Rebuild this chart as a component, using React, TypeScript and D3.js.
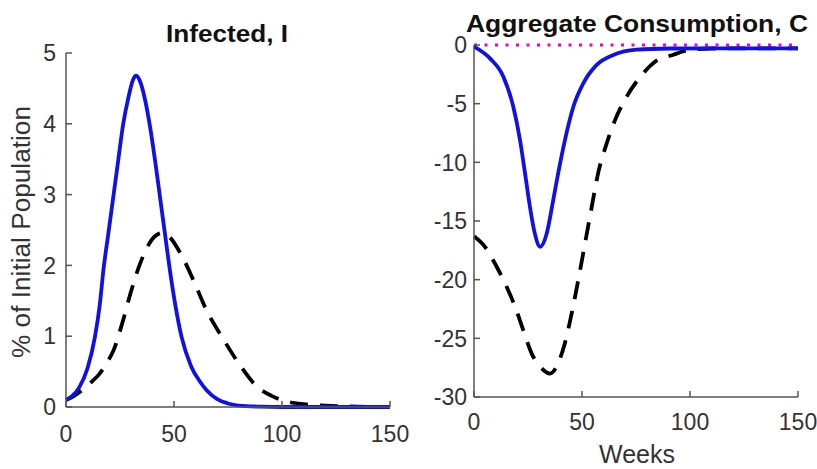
import React from "react";
import * as d3 from "d3";

const weeksTicks = [0, 50, 100, 150];
const infTicks = [0, 1, 2, 3, 4, 5];
const consTicks = [0, -5, -10, -15, -20, -25, -30];

// Infected, I (% of initial population)
const infBlueT = [0, 3, 6, 10, 13.4, 15.7, 17.3, 19.6, 21.9, 24.2, 26.5, 28.8, 31, 32.4, 34, 36.6, 38.9, 41.2, 43.5, 45.8, 48.1, 50.5, 53.5, 58, 62, 65, 70, 75, 80, 90, 100, 150];
const infBlueV = [0.1, 0.16, 0.27, 0.55, 0.99, 1.46, 1.93, 2.45, 2.97, 3.49, 4.0, 4.36, 4.62, 4.68, 4.62, 4.34, 3.96, 3.49, 2.97, 2.45, 1.93, 1.46, 0.99, 0.57, 0.36, 0.24, 0.11, 0.05, 0.02, 0.005, 0, 0];
const infBlackT = [0, 3.4, 8, 12, 15, 19, 22, 26, 30, 34, 38, 42, 45, 48, 53, 59, 65, 73, 81, 88, 95, 102, 110, 120, 135, 150];
const infBlackV = [0.1, 0.15, 0.25, 0.36, 0.45, 0.63, 0.8, 1.18, 1.62, 2.0, 2.28, 2.43, 2.46, 2.4, 2.17, 1.79, 1.37, 0.95, 0.57, 0.3, 0.16, 0.08, 0.04, 0.02, 0.005, 0];

// Aggregate Consumption, C
const conBlueT = [0, 7.4, 13.6, 18.2, 21.3, 23.6, 25.9, 28.2, 30.6, 33.6, 36.7, 39, 42.1, 46, 50.6, 56.8, 64.5, 75.3, 91, 110, 150];
const conBlueV = [-0.14, -1.14, -2.7, -5.26, -8.1, -10.9, -13.8, -16.1, -17.2, -16.1, -13.2, -10.9, -8.1, -5.26, -3.27, -1.7, -0.85, -0.4, -0.3, -0.28, -0.28];
const conBlackT = [0, 5.1, 10.5, 15.1, 19, 22.8, 26.7, 30.6, 35.2, 39, 42.1, 45.2, 48.3, 51.4, 54.5, 57.5, 61.4, 65.3, 70.7, 78.4, 83.8, 92, 99, 110, 150];
const conBlackV = [-16.3, -17.2, -18.9, -20.6, -22.3, -24.3, -26.3, -27.4, -28.0, -27.1, -25.4, -22.9, -20.0, -16.9, -13.8, -10.9, -8.4, -6.4, -4.4, -2.4, -1.42, -0.85, -0.45, -0.3, -0.28];
const conZeroT = [0, 150];
const conZeroV = [0, 0];

const AXIS = "#555";
const TXT = "#333";
const FONT = "'Liberation Sans', Arial, Helvetica, sans-serif";
const BLUE = "#1010e8";

type Series = { t: number[]; v: number[]; color: string; dash?: string; width: number };

function Panel(props: {
  x0: number; x1: number; yTop: number; yBot: number; yDomain: [number, number];
  yTicks: number[]; series: Series[]; title: string; titleX: number; titleY: number; titleLen: number;
  xTickY: number; yTickRight: number;
}) {
  const { x0, x1, yTop, yBot, yDomain, yTicks, series } = props;
  const x = d3.scaleLinear().domain([0, 150]).range([x0, x1]);
  const y = d3.scaleLinear().domain(yDomain).range([yBot, yTop]);
  const line = d3.line<[number, number]>().x((d) => x(d[0])).y((d) => y(d[1])).curve(d3.curveMonotoneX);
  return (
    <g>
      {series.map((s, i) => (
        <path key={i} d={line(s.t.map((t, j) => [t, s.v[j]] as [number, number])) || ""}
          fill="none" stroke={s.color} strokeWidth={s.width} strokeDasharray={s.dash} />
      ))}
      <line x1={x0} x2={x1} y1={yBot} y2={yBot} stroke={AXIS} strokeWidth={1.5} />
      <line x1={x0} x2={x0} y1={yTop} y2={yBot} stroke={AXIS} strokeWidth={1.5} />
      {weeksTicks.map((t) => (
        <g key={"x" + t}>
          <line x1={x(t)} x2={x(t)} y1={yBot} y2={yBot - 6} stroke={AXIS} strokeWidth={1.5} />
          <text x={x(t)} y={props.xTickY} textAnchor="middle" fontSize={23} fill={TXT} fontFamily={FONT}>{t}</text>
        </g>
      ))}
      {yTicks.map((v) => (
        <g key={"y" + v}>
          <line x1={x0} x2={x0 + 6} y1={y(v)} y2={y(v)} stroke={AXIS} strokeWidth={1.5} />
          <text x={props.yTickRight} y={y(v)} dy="0.36em" textAnchor="end" fontSize={23} fill={TXT} fontFamily={FONT}>{v}</text>
        </g>
      ))}
      <text x={props.titleX} y={props.titleY} textAnchor="middle" fontSize={24} fontWeight="bold" fill="#111"
        fontFamily={FONT} textLength={props.titleLen} lengthAdjust="spacingAndGlyphs">{props.title}</text>
    </g>
  );
}

export default function App() {
  return (
    <svg width={817} height={469} style={{ position: "absolute", left: 0, top: 0, background: "#fff" }}>
      <rect width={817} height={469} fill="#fff" />
      <Panel x0={66} x1={390} yTop={53} yBot={407} yDomain={[0, 5]} yTicks={infTicks}
        series={[
          { t: infBlackT, v: infBlackV, color: "#000", dash: "18,12", width: 3.8 },
          { t: infBlueT, v: infBlueV, color: BLUE, width: 3.8 },
        ]}
        title="Infected, I" titleX={227} titleY={42} titleLen={122} xTickY={442} yTickRight={56} />
      <Panel x0={474} x1={798} yTop={45} yBot={397} yDomain={[-30, 0]} yTicks={consTicks}
        series={[
          { t: conZeroT, v: conZeroV, color: "#e600e6", dash: "3,7.5", width: 3 },
          { t: conBlackT, v: conBlackV, color: "#000", dash: "18,12", width: 3.8 },
          { t: conBlueT, v: conBlueV, color: BLUE, width: 3.8 },
        ]}
        title="Aggregate Consumption, C" titleX={637} titleY={32} titleLen={342} xTickY={430} yTickRight={467} />
      <text transform="translate(30,232) rotate(-90)" textAnchor="middle" fontSize={25} fill={TXT} fontFamily={FONT}
        textLength={252} lengthAdjust="spacingAndGlyphs">% of Initial Population</text>
      <text x={637} y={463} textAnchor="middle" fontSize={25} fill={TXT} fontFamily={FONT}>Weeks</text>
    </svg>
  );
}
